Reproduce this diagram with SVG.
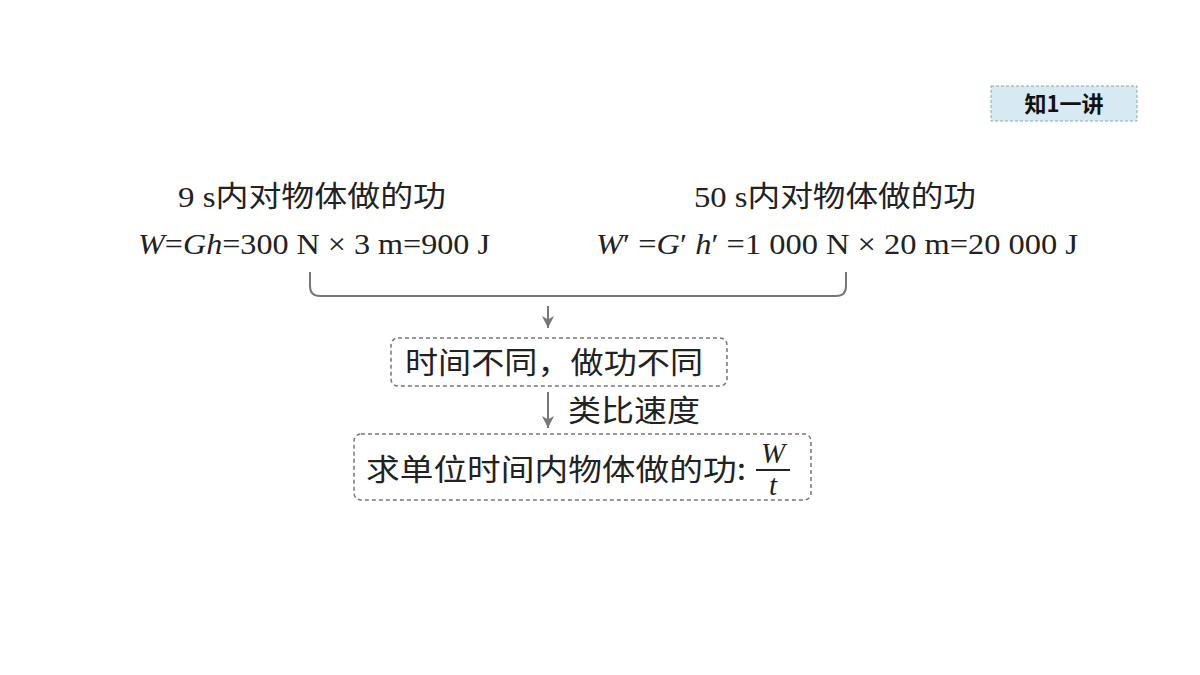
<svg xmlns="http://www.w3.org/2000/svg" width="1200" height="675" viewBox="0 0 1200 675">
<style>
.t{font-family:"Liberation Serif","Noto Sans CJK SC",serif;font-size:29px;fill:#222}
.c{font-family:"Noto Sans CJK SC",sans-serif;font-size:30px;fill:#222}
.box{fill:none;stroke:#777;stroke-width:1.5;stroke-dasharray:4 3}
.ln{fill:none;stroke:#777;stroke-width:2}
</style>
<defs><marker id="ah" markerWidth="12" markerHeight="12" refX="10" refY="5" orient="auto" markerUnits="userSpaceOnUse" viewBox="0 0 10 10"><path d="M0,0 L10,5 L0,10 L3,5 Z" fill="#777"/></marker></defs>
<rect width="1200" height="675" fill="#fff"/>
<g id="badge"><rect x="991" y="86" width="146" height="35" fill="#d7e9f2" stroke="#8aa" stroke-width="1" stroke-dasharray="3 2"/><text x="1064" y="112" text-anchor="middle" font-family="Noto Sans CJK SC,sans-serif" font-weight="bold" font-size="22" fill="#111">知1一讲</text></g>
<g id="left"><text class="t" x="178" y="207" textLength="268" lengthAdjust="spacingAndGlyphs">9 s内对物体做的功</text>
<text class="t" x="138" y="254" textLength="352" lengthAdjust="spacingAndGlyphs"><tspan font-style="italic">W</tspan>=<tspan font-style="italic">Gh</tspan>=300 N × 3 m=900 J</text></g>
<g id="right"><text class="t" x="694" y="207" textLength="282" lengthAdjust="spacingAndGlyphs">50 s内对物体做的功</text>
<text class="t" x="596" y="254" textLength="482" lengthAdjust="spacingAndGlyphs"><tspan font-style="italic">W</tspan>′ =<tspan font-style="italic">G</tspan>′ <tspan font-style="italic">h</tspan>′ =1 000 N × 20 m=20 000 J</text></g>
<g id="connectors">
<path class="ln" d="M310,272 V286 Q310,296 320,296 H836 Q846,296 846,286 V272"/>
<line class="ln" x1="548" y1="306" x2="548" y2="328" marker-end="url(#ah)"/>
<line class="ln" x1="548" y1="392" x2="548" y2="428" marker-end="url(#ah)"/>
</g>
<g id="n1"><rect class="box" x="391" y="338" width="336" height="48" rx="7"/><text class="c" x="405" y="373" textLength="298" lengthAdjust="spacingAndGlyphs">时间不同，做功不同</text></g>
<g id="lbl"><text class="c" x="568" y="421" textLength="132" lengthAdjust="spacingAndGlyphs">类比速度</text></g>
<g id="n2"><rect class="box" x="354" y="434" width="457" height="66" rx="7"/><text class="c" x="366" y="480" textLength="380" lengthAdjust="spacingAndGlyphs">求单位时间内物体做的功:</text>
<text class="t" x="773" y="463" text-anchor="middle" font-style="italic">W</text><line x1="756" y1="470" x2="790" y2="470" stroke="#222" stroke-width="2"/><text class="t" x="773" y="495" text-anchor="middle" font-style="italic">t</text></g>
</svg>
